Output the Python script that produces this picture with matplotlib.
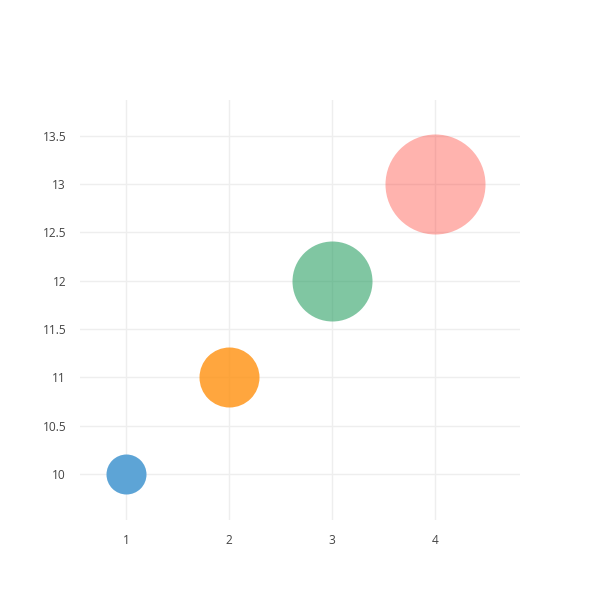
import matplotlib.pyplot as plt

x = [1, 2, 3, 4]
y = [10, 11, 12, 13]
sizes = [40, 60, 80, 100]  # bubble diameter in px
colors = [(93/255, 164/255, 214/255), (255/255, 144/255, 14/255),
          (44/255, 160/255, 101/255), (255/255, 65/255, 54/255)]
opacity = [1, 0.8, 0.6, 0.4]

x_ticks = [1, 2, 3, 4]
y_ticks = [10, 10.5, 11, 11.5, 12, 12.5, 13, 13.5]
y_labels = ['10', '10.5', '11', '11.5', '12', '12.5', '13', '13.5']

plt.rcParams['font.family'] = ['Open Sans', 'DejaVu Sans']

fig = plt.figure(figsize=(6, 6), dpi=100)
ax = fig.add_axes([80/600, 80/600, 440/600, 420/600])

for xi, yi, d, c, a in zip(x, y, sizes, colors, opacity):
    ax.scatter(xi, yi, s=(d * 0.72) ** 2, color=c, alpha=a, linewidths=0, zorder=3)

ax.set_xlim(0.553, 4.825)
ax.set_ylim(9.524, 13.869)
ax.set_xticks(x_ticks)
ax.set_yticks(y_ticks)
ax.set_yticklabels(y_labels)
ax.grid(True, color='#eeeeee', linewidth=1)
ax.set_axisbelow(True)
for s in ax.spines.values():
    s.set_visible(False)
ax.tick_params(length=0, labelsize=8.6, labelcolor='#444444', pad=10)

fig.savefig('out.png', dpi=100)
